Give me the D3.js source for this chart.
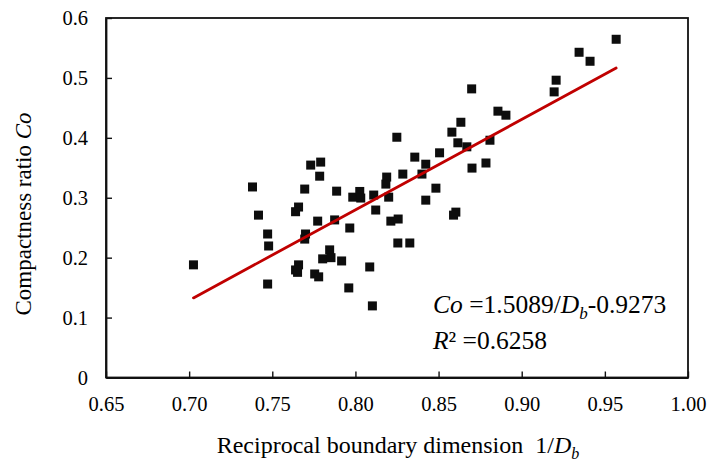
<!DOCTYPE html>
<html>
<head>
<meta charset="utf-8">
<script src="https://cdn.jsdelivr.net/npm/d3@7"></script>
<style>
  body { margin: 0; background: #fff; }
</style>
</head>
<body>
<svg id="chart" width="707" height="464"></svg>
<script>
// reciprocal boundary dimension 1/Db
const xVals = [
  0.7026, 0.7381, 0.7417, 0.7472, 0.7478, 0.7472, 0.7731, 0.7791, 0.7785, 0.7695,
  0.7887, 0.7984, 0.8026, 0.7658, 0.7640, 0.7773, 0.7875, 0.7966, 0.7700, 0.7695,
  0.7845, 0.7803, 0.7853, 0.7917, 0.7658, 0.7640, 0.7652, 0.7755, 0.7779, 0.7960,
  0.8699, 0.8857, 0.8905, 0.8634, 0.8580, 0.8249, 0.8616, 0.8670, 0.8809, 0.8506,
  0.8357, 0.8423, 0.8400, 0.8701, 0.8785, 0.8285, 0.8188, 0.8183, 0.8032, 0.8110,
  0.8200, 0.8484, 0.8423, 0.8122, 0.8213, 0.8257, 0.8604, 0.8590, 0.8255, 0.8327,
  0.8086, 0.8102, 0.9568, 0.9345, 0.9411, 0.9207, 0.9195
];
// compactness ratio Co
const yVals = [
  0.188, 0.318, 0.271, 0.2395, 0.2195, 0.156, 0.3545, 0.3595, 0.336, 0.3145,
  0.311, 0.301, 0.3105, 0.2845, 0.2767, 0.261, 0.263, 0.2495, 0.2395, 0.231,
  0.213, 0.198, 0.200, 0.1945, 0.188, 0.1795, 0.1755, 0.1728, 0.168, 0.1495,
  0.4817, 0.4445, 0.4378, 0.426, 0.4095, 0.401, 0.3917, 0.385, 0.396, 0.375,
  0.3678, 0.356, 0.3395, 0.3495, 0.358, 0.3395, 0.3345, 0.3228, 0.2995, 0.3045,
  0.301, 0.316, 0.296, 0.2795, 0.261, 0.2645, 0.276, 0.271, 0.2245, 0.2245,
  0.1845, 0.1195, 0.5645, 0.5428, 0.5278, 0.4962, 0.4767
];
const xTicks = [0.65, 0.70, 0.75, 0.80, 0.85, 0.90, 0.95, 1.00];
const yTicks = [0, 0.1, 0.2, 0.3, 0.4, 0.5, 0.6];
// fit: Co = 1.5089/Db - 0.9273
const slope = 1.5089, intercept = -0.9273;

const FONT = '"Liberation Serif", Tinos, "Times New Roman", Times, "DejaVu Serif", serif';

const svg = d3.select('#chart');
const plotL = 106, plotR = 688, plotT = 18, plotB = 377.5;

const x = d3.scaleLinear().domain([0.65, 1.00]).range([plotL, plotR]);
const y = d3.scaleLinear().domain([0, 0.6]).range([plotB, plotT]);

// frame
svg.append('rect')
  .attr('x', plotL).attr('y', plotT)
  .attr('width', plotR - plotL).attr('height', plotB - plotT)
  .attr('fill', 'none').attr('stroke', '#111').attr('stroke-width', 1.8);

// axes, ticks pointing inward
const xAxis = svg.append('g')
  .attr('transform', `translate(0,${plotB})`)
  .call(d3.axisBottom(x).tickValues(xTicks).tickSizeInner(-6).tickSizeOuter(0)
    .tickPadding(19).tickFormat(d3.format('.2f')));
const yAxis = svg.append('g')
  .attr('transform', `translate(${plotL},0)`)
  .call(d3.axisLeft(y).tickValues(yTicks).tickSizeInner(-6).tickSizeOuter(0)
    .tickPadding(18).tickFormat(d => d === 0 ? '0' : d3.format('.1f')(d)));

[xAxis, yAxis].forEach(g => {
  g.attr('font-family', null).attr('font-size', null);
  g.select('.domain').attr('stroke', '#111').attr('stroke-width', 1.8);
  g.selectAll('.tick line').attr('stroke', '#111').attr('stroke-width', 1.4);
  g.selectAll('.tick text').attr('fill', '#000')
    .style('font-family', FONT).style('font-size', '20.5px');
});

// points
const pts = xVals.map((v, i) => [v, yVals[i]]);
const sz = 9;
svg.append('g').selectAll('rect')
  .data(pts).join('rect')
  .attr('x', d => x(d[0]) - sz / 2)
  .attr('y', d => y(d[1]) - sz / 2)
  .attr('width', sz).attr('height', sz)
  .attr('fill', '#0d0d0d');

// regression line over data range
const xMin = d3.min(xVals), xMax = d3.max(xVals);
svg.append('line')
  .attr('x1', x(xMin)).attr('y1', y(slope * xMin + intercept))
  .attr('x2', x(xMax)).attr('y2', y(slope * xMax + intercept))
  .attr('stroke', '#c00000').attr('stroke-width', 2.8).attr('stroke-linecap', 'round');

// equation
const eq = svg.append('text').attr('x', 433).attr('y', 313)
  .style('font-family', FONT).style('font-size', '25.5px');
eq.append('tspan').attr('font-style', 'italic').text('Co');
eq.append('tspan').text(' =1.5089/');
eq.append('tspan').attr('font-style', 'italic').text('D');
eq.append('tspan').attr('font-style', 'italic').style('font-size', '17px').attr('dy', 6).text('b');
eq.append('tspan').attr('dy', -6).text('-0.9273');

const r2 = svg.append('text').attr('x', 433).attr('y', 348.5)
  .style('font-family', FONT).style('font-size', '25.5px');
r2.append('tspan').attr('font-style', 'italic').text('R');
r2.append('tspan').text('² =0.6258');

// axis titles
const yt = svg.append('text')
  .attr('transform', 'translate(31,214) rotate(-90)')
  .attr('text-anchor', 'middle')
  .style('font-family', FONT).style('font-size', '23px');
yt.append('tspan').text('Compactness ratio ');
yt.append('tspan').attr('font-style', 'italic').text('Co');

const xt = svg.append('text')
  .attr('x', 398).attr('y', 453)
  .attr('text-anchor', 'middle')
  .style('font-family', FONT).style('font-size', '24px');
xt.append('tspan').text('Reciprocal boundary dimension\u00a0\u00a01/');
xt.append('tspan').attr('font-style', 'italic').text('D');
xt.append('tspan').attr('font-style', 'italic').style('font-size', '16px').attr('dy', 6).text('b');
</script>
</body>
</html>
